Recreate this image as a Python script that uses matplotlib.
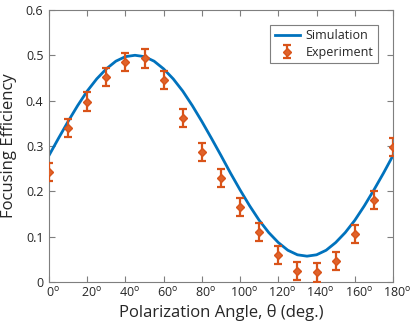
import matplotlib
matplotlib.use("Agg")
import matplotlib.pyplot as plt
import matplotlib.transforms as mtransforms

# Simulation curve (at 5 degree steps)
sim_angle = [0, 5, 10, 15, 20, 25, 30, 35, 40, 45, 50, 55, 60, 65, 70, 75, 80, 85, 90,
             95, 100, 105, 110, 115, 120, 125, 130, 135, 140, 145, 150, 155, 160, 165, 170, 175, 180]
sim_eff = [0.279, 0.317, 0.354, 0.389, 0.421, 0.448, 0.470, 0.487, 0.497, 0.500, 0.497, 0.487,
           0.470, 0.448, 0.421, 0.389, 0.354, 0.317, 0.279, 0.240, 0.203, 0.168, 0.136, 0.109,
           0.087, 0.070, 0.060, 0.057, 0.060, 0.070, 0.087, 0.109, 0.136, 0.168, 0.203, 0.240, 0.279]

# Experiment
exp_angle = [0, 10, 20, 30, 40, 50, 60, 70, 80, 90, 100, 110, 120, 130, 140, 150, 160, 170, 180]
exp_eff = [0.243, 0.339, 0.398, 0.453, 0.486, 0.493, 0.446, 0.361, 0.286, 0.229, 0.166, 0.111,
           0.060, 0.025, 0.021, 0.046, 0.105, 0.181, 0.298]
exp_err = [0.02] * 19

x_ticks = [0, 20, 40, 60, 80, 100, 120, 140, 160, 180]
x_ticklabels = [r"$\mathrm{%d}^{\mathrm{o}}$" % v for v in x_ticks]
y_ticks = [0, 0.1, 0.2, 0.3, 0.4, 0.5, 0.6]
y_ticklabels = ["0", "0.1", "0.2", "0.3", "0.4", "0.5", "0.6"]

plt.rcParams["font.family"] = ["Open Sans", "DejaVu Sans"]
plt.rcParams["mathtext.fontset"] = "custom"
plt.rcParams["mathtext.rm"] = "Open Sans"
plt.rcParams["mathtext.it"] = "Open Sans:italic"

txt = "#262626"
spine = "#7f7f7f"

fig = plt.figure(figsize=(4.15, 3.31), dpi=100)
ax = fig.add_axes([0.118, 0.148, 0.829, 0.822])

ax.plot(sim_angle, sim_eff, color="#0072BD", lw=2.0, label="Simulation", zorder=2)
ax.errorbar(exp_angle, exp_eff, yerr=exp_err, fmt="D", color="#D95319", ms=4.5,
            mfc="#E0622A", mec="#D95319", elinewidth=1.6, capsize=3, capthick=1.6,
            label="Experiment", zorder=3)

ax.set_xlim(0, 180)
ax.set_ylim(0, 0.6)
ax.set_xticks(x_ticks)
ax.set_xticklabels(x_ticklabels)
ax.set_yticks(y_ticks)
ax.set_yticklabels(y_ticklabels)
ax.tick_params(direction="in", length=4, width=0.8, colors=spine, labelcolor=txt,
               labelsize=9, top=True, right=True, pad=3)
ax.tick_params(axis="y", pad=4)
offset = mtransforms.ScaledTranslation(0.04, 0, fig.dpi_scale_trans)
for lab in ax.get_xticklabels():
    lab.set_transform(lab.get_transform() + offset)
for s in ax.spines.values():
    s.set_color(spine)
    s.set_linewidth(0.8)

ax.set_xlabel("Polarization Angle, θ (deg.)", fontsize=12, color=txt, labelpad=3)
ax.set_ylabel("Focusing Efficiency", fontsize=12, color=txt, labelpad=6)

leg = ax.legend(loc="upper right", fontsize=9, frameon=True, fancybox=False,
                edgecolor=spine, framealpha=1, borderpad=0.35, handlelength=2.0,
                handletextpad=0.5, borderaxespad=1.2, labelspacing=0.3)
leg.get_frame().set_linewidth(0.8)
for t in leg.get_texts():
    t.set_color(txt)

fig.savefig("out.png", dpi=100)
